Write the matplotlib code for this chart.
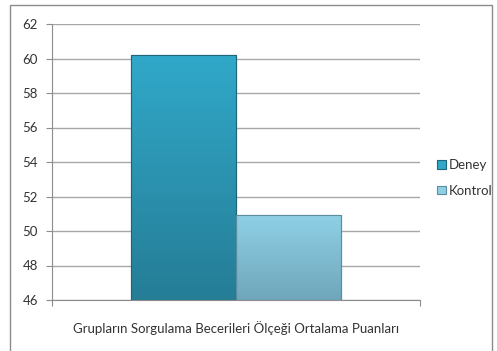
import matplotlib
matplotlib.use("Agg")
import matplotlib.pyplot as plt
import numpy as np
from matplotlib.colors import LinearSegmentedColormap
from matplotlib.patches import Rectangle

category = "Grupların Sorgulama Becerileri Ölçeği Ortalama Puanları"
series = ["Deney", "Kontrol"]
values = [60.2, 50.9]
yticks = [46, 48, 50, 52, 54, 56, 58, 60, 62]
top_colors = ["#31A8C9", "#8FD0E6"]
bot_colors = ["#257D96", "#6FA6BB"]
edge_colors = ["#1F6478", "#5A8DA0"]

plt.rcParams['font.family'] = ['Lato', 'DejaVu Sans']

fig = plt.figure(figsize=(4.97, 3.51), dpi=100)
fig.patch.set_facecolor("white")
# outer border
fig.add_artist(Rectangle((10/497, -0.01), (492-10)/497, 1 - 5/351 + 0.01,
                         transform=fig.transFigure, fill=False,
                         edgecolor="#8C8C8C", lw=1.0))

ax = fig.add_axes([52/497, 1 - 300/351, (420-52)/497, (300-24)/351])
ax.set_xlim(-0.5, 0.5)
ax.set_ylim(46, 62)
ax.set_yticks(yticks)
ax.set_yticklabels([str(t) for t in yticks], fontsize=9.5, color="#333333")
ax.tick_params(axis='y', length=4, color="#8C8C8C", pad=6)
ax.set_xticks([-0.5, 0.5])
ax.set_xticklabels(["", ""])
ax.tick_params(axis='x', length=4, color="#8C8C8C", direction='out')
ax.grid(axis='y', color="#A8A8A8", lw=1.0)
ax.set_axisbelow(True)
for s in ["top", "right"]:
    ax.spines[s].set_visible(False)
for s in ["left", "bottom"]:
    ax.spines[s].set_color("#8C8C8C")

w = 0.285
xs = [-w/2, w/2]
handles = []
for i, (x, v) in enumerate(zip(xs, values)):
    b = ax.bar(x, v - 46, bottom=46, width=w, color=top_colors[i],
               edgecolor=edge_colors[i], lw=0.8, label=series[i], zorder=2)[0]
    cmap = LinearSegmentedColormap.from_list("g", [bot_colors[i], top_colors[i]])
    grad = np.linspace(0, 1, 100).reshape(-1, 1)
    im = ax.imshow(grad, extent=[x - w/2, x + w/2, 46, v], origin='lower',
                   cmap=cmap, aspect='auto', zorder=2.5)
    im.set_clip_path(b)
    ax.add_patch(Rectangle((x - w/2, 46), w, v - 46, fill=False,
                           edgecolor=edge_colors[i], lw=0.8, zorder=3))
    handles.append(b)
ax.set_aspect('auto')
ax.set_xlim(-0.5, 0.5)
ax.set_ylim(46, 62)

ax.set_xlabel(category, fontsize=9.5, color="#333333", labelpad=8)

fig.legend(handles, series, loc='center left',
           bbox_to_anchor=(437/497, 1 - 178/351), frameon=False,
           fontsize=9.5, handlelength=0.65, handleheight=0.65,
           handletextpad=0.25, labelspacing=1.0, labelcolor="#333333",
           borderaxespad=0, borderpad=0)

fig.savefig("out.png", dpi=100)
